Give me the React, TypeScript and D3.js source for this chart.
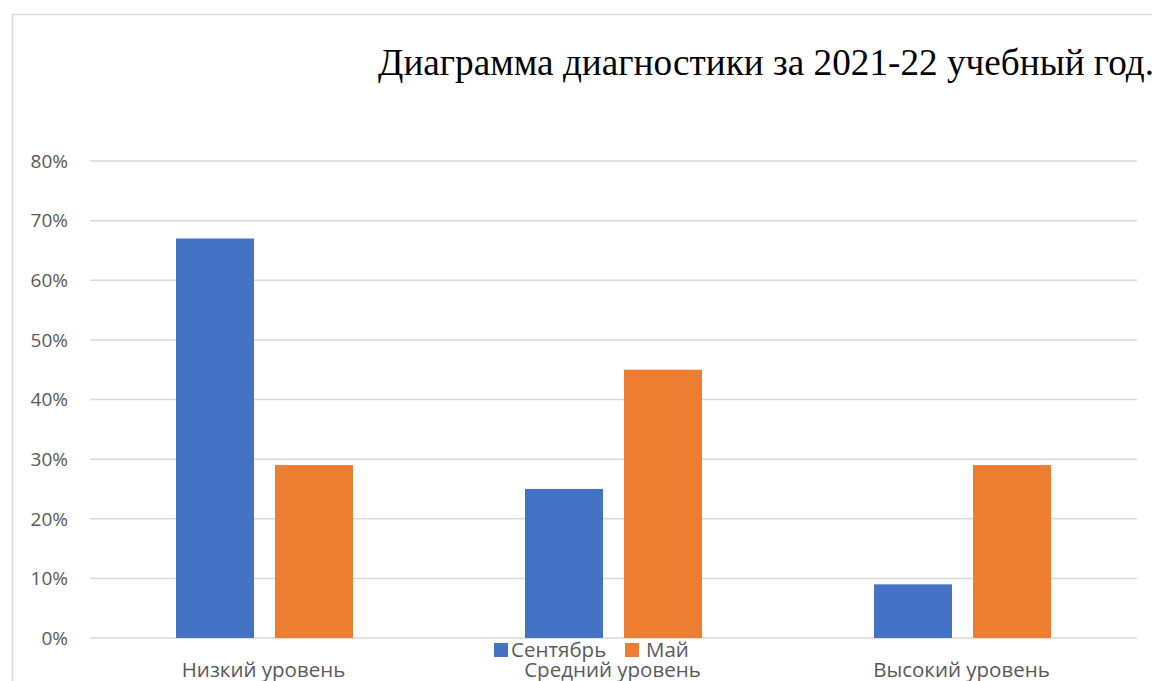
import React from 'react'
import * as d3 from 'd3'

const categories = ['Низкий уровень', 'Средний уровень', 'Высокий уровень']
const seriesNames = ['Сентябрь', 'Май']
const september = [0.67, 0.25, 0.09]
const may = [0.29, 0.45, 0.29]
const yTicks = [0, 0.1, 0.2, 0.3, 0.4, 0.5, 0.6, 0.7, 0.8]
const colors = ['#4472c4', '#ed7d31']

const width = 1152
const height = 681
const plot = { left: 90, right: 1137, top: 161, bottom: 638 }
const sansFont = '"Open Sans", "Noto Sans", sans-serif'

const App: React.FC = () => {
  const x = d3.scaleBand<string>()
    .domain(categories)
    .range([plot.left, plot.right])

  // two 78px bars with a ~21px gap, centred in each category band
  const inner = d3.scaleBand<string>()
    .domain(seriesNames)
    .range([86, x.bandwidth() - 86])
    .paddingInner(0.212)

  const y = d3.scaleLinear()
    .domain([0, 0.8])
    .range([plot.bottom, plot.top])

  const fmt = d3.format('.0%')
  const series = [september, may]

  return (
    <svg width={width} height={height} style={{ position: 'absolute', left: 0, top: 0, background: '#fff' }}>
      {/* chart frame */}
      <path d={`M12.5,${height} V14.5 H${width}`} fill="none" stroke="#d9d9d9" strokeWidth={1.5} />

      <text x={378} y={75} fontFamily='"Liberation Serif", "Times New Roman", serif'
        fontSize={37} fill="#000" textLength={776} lengthAdjust="spacingAndGlyphs">
        Диаграмма диагностики за 2021-22 учебный год.
      </text>

      {/* gridlines + y labels */}
      {yTicks.map(t => (
        <g key={t}>
          <line x1={plot.left} x2={plot.right} y1={y(t)} y2={y(t)} stroke="#d9d9d9" strokeWidth={1.5} />
          <text x={68} y={y(t)} dy="0.36em" textAnchor="end" fontFamily={sansFont}
            fontSize={19} fill="#595959">{fmt(t)}</text>
        </g>
      ))}

      {/* bars */}
      {categories.map((c, i) => (
        <g key={c} transform={`translate(${x(c)},0)`}>
          {seriesNames.map((s, j) => (
            <rect key={s}
              x={inner(s)}
              y={y(series[j][i])}
              width={inner.bandwidth()}
              height={y(0) - y(series[j][i])}
              fill={colors[j]} />
          ))}
          <text x={x.bandwidth() / 2 - 1} y={677} textAnchor="middle" fontFamily={sansFont}
            fontSize={20.5} fill="#595959">{c}</text>
        </g>
      ))}

      {/* legend */}
      <g transform="translate(494,643)">
        <rect x={0} y={0} width={14} height={14} fill={colors[0]} />
        <text x={17} y={14} fontFamily={sansFont} fontSize={20.5} fill="#595959">{seriesNames[0]}</text>
        <rect x={131} y={0} width={14} height={14} fill={colors[1]} />
        <text x={152} y={14} fontFamily={sansFont} fontSize={20.5} fill="#595959">{seriesNames[1]}</text>
      </g>
    </svg>
  )
}

export default App
